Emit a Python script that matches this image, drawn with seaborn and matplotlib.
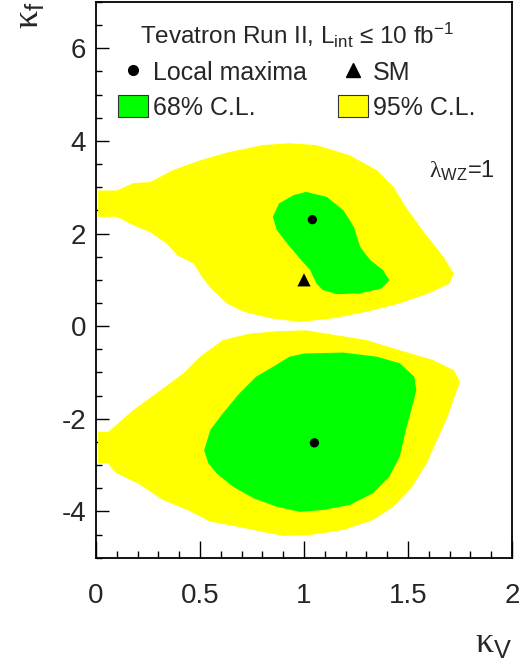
import numpy as np
import matplotlib
matplotlib.use("Agg")
import matplotlib.pyplot as plt
import seaborn as sns
from matplotlib.ticker import MultipleLocator
from matplotlib.lines import Line2D
from matplotlib.patches import Patch

# contour outlines (kappa_V, kappa_f)
up95_kv = [0.01, 0.10, 0.18, 0.26, 0.37, 0.50, 0.64, 0.80, 0.93, 1.06, 1.22, 1.35, 1.43, 1.49,
           1.57, 1.67, 1.72, 1.70, 1.60, 1.46, 1.30, 1.14, 0.98, 0.84, 0.71, 0.63, 0.56, 0.51,
           0.47, 0.39, 0.34, 0.26, 0.18, 0.10, 0.01]
up95_kf = [2.93, 2.93, 3.09, 3.11, 3.37, 3.58, 3.76, 3.91, 3.95, 3.91, 3.69, 3.37, 3.01, 2.57,
           2.07, 1.50, 1.14, 0.92, 0.71, 0.49, 0.31, 0.17, 0.09, 0.17, 0.31, 0.49, 0.78, 1.06,
           1.35, 1.53, 1.78, 2.03, 2.18, 2.36, 2.36]

up68_kv = [0.85, 0.88, 0.95, 1.01, 1.11, 1.19, 1.24, 1.27, 1.32, 1.38, 1.41, 1.37, 1.27, 1.16,
           1.09, 1.06, 1.03, 0.98, 0.92, 0.87]
up68_kf = [2.36, 2.65, 2.83, 2.90, 2.79, 2.50, 2.14, 1.71, 1.42, 1.21, 0.99, 0.81, 0.71, 0.69,
           0.78, 0.92, 1.21, 1.46, 1.78, 2.07]

lo95_kv = [0.01, 0.06, 0.07, 0.18, 0.29, 0.42, 0.50, 0.61, 0.74, 0.87, 1.01, 1.30, 1.46, 1.62,
           1.72, 1.75, 1.73, 1.69, 1.64, 1.59, 1.52, 1.43, 1.33, 1.19, 1.03, 0.90, 0.80, 0.68,
           0.55, 0.44, 0.32, 0.20, 0.10, 0.07, 0.06, 0.01]
lo95_kf = [-2.28, -2.28, -2.24, -1.81, -1.45, -1.02, -0.66, -0.30, -0.16, -0.11, -0.09, -0.30,
           -0.52, -0.73, -0.95, -1.20, -1.45, -1.96, -2.46, -2.96, -3.47, -3.90, -4.19, -4.40,
           -4.51, -4.53, -4.44, -4.33, -4.22, -3.97, -3.75, -3.39, -3.18, -3.04, -2.96, -2.96]

lo68_kv = [0.52, 0.55, 0.61, 0.69, 0.77, 0.85, 0.93, 1.00, 1.19, 1.35, 1.46, 1.53, 1.54, 1.52,
           1.49, 1.46, 1.41, 1.33, 1.22, 1.09, 0.98, 0.87, 0.76, 0.66, 0.58, 0.54]
lo68_kf = [-2.68, -2.24, -1.88, -1.45, -1.09, -0.88, -0.66, -0.59, -0.57, -0.66, -0.80, -1.09,
           -1.38, -1.74, -2.24, -2.82, -3.25, -3.61, -3.86, -3.97, -4.01, -3.90, -3.72, -3.47,
           -3.18, -2.96]

maxima_kv = [1.04, 1.05]
maxima_kf = [2.30, -2.52]
sm_kv = [1.0]
sm_kf = [1.0]

xticks = [0, 0.5, 1, 1.5, 2]
xtick_labels = ['0', '0.5', '1', '1.5', '2']
yticks = [-4, -2, 0, 2, 4, 6]
ytick_labels = ['-4', '-2', '0', '2', '4', '6']

yellow = '#ffff00'
green = '#00ff00'

sns.set_style('ticks')
plt.rcParams['font.family'] = ['Liberation Sans', 'DejaVu Sans']
plt.rcParams['mathtext.fontset'] = 'custom'
plt.rcParams['mathtext.rm'] = 'Liberation Serif'
plt.rcParams['mathtext.sf'] = 'Liberation Sans'
plt.rcParams['mathtext.it'] = 'Liberation Sans:italic'

fig = plt.figure(figsize=(5.3, 6.62), dpi=100)
ax = fig.add_axes([96 / 530, 1 - 557.7 / 662, 416 / 530, 555.7 / 662])

# 95% first, 68% on top
ax.fill(up95_kv, up95_kf, color=yellow, lw=0, zorder=1)
ax.fill(lo95_kv, lo95_kf, color=yellow, lw=0, zorder=1)
ax.fill(up68_kv, up68_kf, color=green, lw=0, zorder=2)
ax.fill(lo68_kv, lo68_kf, color=green, lw=0, zorder=2)

sns.scatterplot(x=maxima_kv, y=maxima_kf, marker='o', color='black', s=45,
                edgecolor='none', ax=ax, legend=False, zorder=3)
sns.scatterplot(x=sm_kv, y=sm_kf, marker='^', color='black', s=90,
                edgecolor='none', ax=ax, legend=False, zorder=3)

ax.set_xlim(0, 2)
ax.set_ylim(-5, 7)
ax.set_xticks(xticks)
ax.set_xticklabels(xtick_labels)
ax.set_yticks(yticks)
ax.set_yticklabels(ytick_labels)
ax.xaxis.set_minor_locator(MultipleLocator(0.1))
ax.yaxis.set_minor_locator(MultipleLocator(0.5))
ax.tick_params(axis='both', which='both', direction='in', top=False, right=False,
               labelsize=20, width=1.0, color='black')
ax.tick_params(axis='x', which='major', length=12, pad=18)
ax.tick_params(axis='x', which='minor', length=5)
ax.tick_params(axis='y', which='major', length=9, pad=7)
ax.tick_params(axis='y', which='minor', length=4.5)
for sp in ax.spines.values():
    sp.set_linewidth(1.3)
    sp.set_color('black')

# axis titles sit in the corners, ROOT style
fig.text(512 / 530, 1 - 642 / 662, r'$\mathrm{\kappa}_{\mathsf{V}}$', fontsize=26,
         ha='right', va='center')
fig.text(29 / 530, 1 - 1 / 662, r'$\mathrm{\kappa}_{\mathsf{f}}$', fontsize=26,
         rotation=90, ha='center', va='top')

ax.text(1.60, 3.37, r'$\mathrm{\lambda}_{\mathsf{WZ}}$=1', fontsize=17, va='center', ha='left')

# legend header as its own text, entries below it
ax.text(0.484, 0.939, r'Tevatron Run II, L$_{\mathsf{int}}$ ≤ 10 fb$^{\mathsf{-1}}$',
        transform=ax.transAxes, fontsize=17.5, ha='center', va='center')

handles = [Line2D([], [], marker='o', color='black', ls='none', markersize=7),
           Patch(facecolor=green, edgecolor='#333333', lw=0.8),
           Line2D([], [], marker='^', color='black', ls='none', markersize=10),
           Patch(facecolor=yellow, edgecolor='#333333', lw=0.8)]
labels = ['Local maxima', '68% C.L.', 'SM', '95% C.L.']
ax.legend(handles, labels, ncol=2, loc='upper left', bbox_to_anchor=(0.035, 0.908),
          frameon=False, fontsize=18, handlelength=1.2, handleheight=0.96,
          handletextpad=0.2, columnspacing=1.24, labelspacing=0.4,
          borderpad=0.3, borderaxespad=0)

fig.savefig('out.png', dpi=100)
